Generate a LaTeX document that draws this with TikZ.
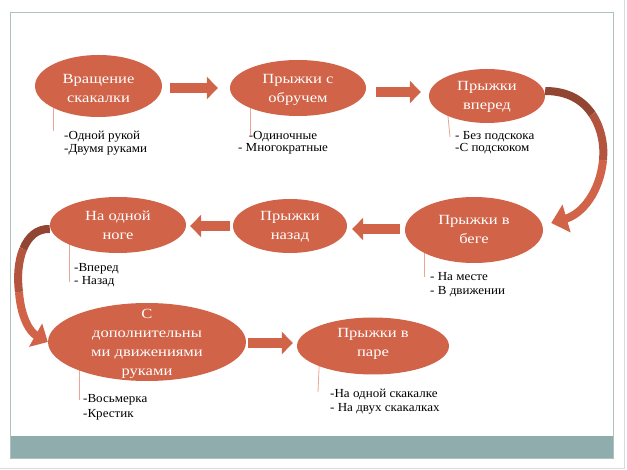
\documentclass[tikz,border=0pt]{standalone}
\usepackage{fontspec}
\setmainfont{Liberation Serif}
\newfontfamily\wfont[FakeStretch=1.18]{Liberation Serif}
\newfontfamily\bfont[FakeStretch=1.06]{Liberation Serif}
\usetikzlibrary{shapes.geometric,arrows.meta,calc}
\definecolor{coral}{HTML}{D16349}
\definecolor{calloutc}{HTML}{E9A596}
\definecolor{band}{HTML}{8FADAD}
\definecolor{framec}{HTML}{ADC2BF}
\definecolor{outerc}{HTML}{DADADA}
\begin{document}
\begin{tikzpicture}[x=1pt,y=-1pt,
  oval/.style={ellipse, fill=coral, draw=none, inner sep=0pt},
  wtext/.style={text=white, font=\wfont\fontsize{14}{19}\selectfont, align=center, inner sep=0pt},
  btext/.style={text=black, font=\bfont\fontsize{12.3}{12.5}\selectfont, align=left, inner sep=0pt, anchor=north west},
  barrow/.style={draw=coral, line width=10pt, -{Triangle[length=11pt,width=22pt]}},
  ribbon/.style={line width=8pt, line cap=butt},
  callout/.style={draw=calloutc, line width=0.8pt},
]
\useasboundingbox (0,0) rectangle (627,470);
\fill[white] (0,0) rectangle (627,470);
% slide frame
\fill[band] (10.5,436) rectangle (613.5,458.5);
\draw[framec, line width=1.2pt] (10.5,12.5) rectangle (613.5,458.5);
\draw[outerc, line width=0.8pt] (624.5,0) -- (624.5,468.5) -- (0,468.5);

% ellipse positions (coordinates only)
\coordinate (p1) at (98.5,86);
\coordinate (p2) at (298,88);
\coordinate (p3) at (487,96);
\coordinate (p4) at (474,230);
\coordinate (p5) at (290,226);
\coordinate (p6) at (118,225);
\coordinate (p7) at (147,342);
\coordinate (p8) at (373,346);

% callout lines
\draw[callout] ($(p1)+(-45.5,0)$) -- ($(p1)+(-45.5,45)$);
\draw[callout] ($(p2)+(-48,0)$) -- ($(p2)+(-48,47)$);
\draw[callout] ($(p3)+(-41,0)$) -- ($(p3)+(-37,41)$);
\draw[callout] ($(p4)+(-50,0)$) -- ($(p4)+(-50,47)$);
\draw[callout] ($(p6)+(-49,0)$) -- ($(p6)+(-49,57)$);
\draw[callout] ($(p7)+(-68,0)$) -- ($(p7)+(-68,58)$);
\draw[callout] ($(p8)+(-53,0)$) -- ($(p8)+(-55,46)$);

% ellipses
\node[oval, minimum width=127pt, minimum height=62pt] (e1) at (p1) {};
\node[oval, minimum width=136pt, minimum height=56pt] (e2) at (p2) {};
\node[oval, minimum width=116pt, minimum height=54pt] (e3) at (p3) {};
\node[oval, minimum width=138pt, minimum height=66pt] (e4) at (p4) {};
\node[oval, minimum width=114pt, minimum height=54pt] (e5) at (p5) {};
\node[oval, minimum width=136pt, minimum height=56pt] (e6) at (p6) {};
\node[oval, minimum width=198pt, minimum height=78pt] (e7) at (p7) {};
\node[oval, minimum width=152pt, minimum height=57pt] (e8) at (p8) {};

% straight block arrows
\draw[barrow] ($(e1.east)+(8,2)$) -- ($(e2.west)+(-12,0)$);
\draw[barrow] ($(e2.east)+(10,4)$) -- ($(e3.west)+(-8,-4)$);
\draw[barrow] ($(e4.west)+(-5,-1)$) -- ($(e5.east)+(5,3)$);
\draw[barrow] ($(e5.west)+(-3,0)$) -- ($(e6.east)+(4,1)$);
\draw[barrow] ($(e7.east)+(2,1)$) -- ($(e8.west)+(-4,-3)$);

% curved arrow right (e3 -> e4)
\coordinate (r0) at ($(e3.east)+(0,-5)$);
\coordinate (r1) at (592.25,114.25);
\coordinate (r2) at (603,160);
\coordinate (r3) at ($(e4.east)+(8,-7)$);
\draw[ribbon, draw=coral!70!black] (r0) .. controls (568.5,91) and (583.25,100.75) .. (r1);
\draw[ribbon, draw=coral!85!black] (r1) .. controls (601.25,127.75) and (604.5,145) .. (r2);
\draw[ribbon, draw=coral, -{Triangle[length=16pt,width=28pt]}] (r2) .. controls (600,192) and (582,214) .. (r3);

% curved arrow left (e6 -> e7)
\coordinate (l0) at ($(e6.west)+(0,4)$);
\coordinate (l1) at (23.25,248.875);
\coordinate (l2) at (19,292);
\coordinate (l3) at (e7.west);
\draw[ribbon, draw=coral!70!black] (l0) .. controls (37,228.5) and (28.25,236.75) .. (l1);
\draw[ribbon, draw=coral!85!black] (l1) .. controls (18.25,261) and (17,277) .. (l2);
\draw[ribbon, draw=coral, -{Triangle[length=14pt,width=26pt]}] (l2) .. controls (21,318) and (30,332) .. (l3);

% ellipse texts
\node[wtext] (t1) at ($(e1)+(0,2)$) {Вращение\\скакалки};
\node[wtext] (t2) at ($(e2)+(0,2)$) {Прыжки с\\обручем};
\node[wtext] (t3) at ($(e3)+(0,1)$) {Прыжки\\вперед};
\node[wtext] (t4) at ($(e4)+(0,-1)$) {Прыжки в\\беге};
\node[wtext] (t5) at ($(e5)+(0,1)$) {Прыжки\\назад};
\node[wtext] (t6) at ($(e6)+(0,0)$) {На одной\\ноге};
\node[wtext] (t7) at ($(e7)+(0,2)$) {С\\дополнительны\\ми движениями\\руками};
\node[wtext] (t8) at ($(e8)+(0,-2)$) {Прыжки в\\паре};

% notes
\node[btext] (n1) at (64,131) {-Одной рукой\\-Двумя руками};
\node[btext, anchor=north, align=center] (n2) at (283,131) {-Одиночные\\- Многократные};
\node[btext] (n3) at (455,131) {- Без подскока\\-С подскоком};
\node[btext, font=\bfont\fontsize{12.3}{14}\selectfont] (n4) at (430,272) {- На месте\\- В движении};
\node[btext, font=\bfont\fontsize{12.3}{13}\selectfont] (n6) at (74,263) {-Вперед\\- Назад};
\node[btext, font=\bfont\fontsize{12.3}{15}\selectfont] (n7) at (83,394) {-Восьмерка\\-Крестик};
\node[btext, font=\bfont\fontsize{12.3}{13.5}\selectfont] (n8) at (330,389) {-На одной скакалке\\- На двух скакалках};
\end{tikzpicture}
\end{document}
